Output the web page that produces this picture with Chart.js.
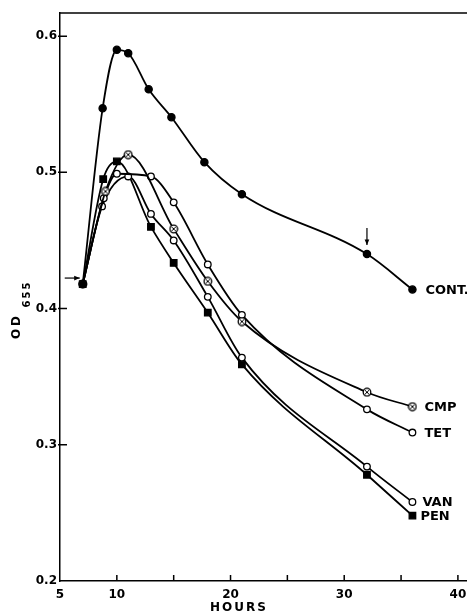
<!DOCTYPE html>
<html lang="en">
<head>
  <meta charset="UTF-8" />
  <title>OD 655 vs hours</title>
  <script src="https://cdn.jsdelivr.net/npm/chart.js"></script>
  <style>
    html, body { margin: 0; padding: 0; background: #fff; }
    #wrap { width: 467px; height: 615px; position: relative; }
  </style>
</head>
<body>
  <div id="wrap"><canvas id="odChart"></canvas></div>

  <script>
    // values
    const contHours = [7, 8.75, 10, 11, 12.8, 14.8, 17.7, 21, 32, 36];
    const contOD    = [0.418, 0.547, 0.590, 0.5875, 0.561, 0.5405, 0.5075, 0.484, 0.440, 0.414];

    const cmpHours = [7, 9, 11, 15, 18, 21, 32, 36];
    const cmpOD    = [0.418, 0.486, 0.513, 0.4585, 0.420, 0.3905, 0.3386, 0.328];

    const tetHours = [7, 8.85, 10, 13, 15, 18, 21, 32, 36];
    const tetOD    = [0.418, 0.481, 0.499, 0.497, 0.478, 0.4324, 0.3954, 0.326, 0.309];

    const vanHours = [7, 8.7, 11, 13, 15, 18, 21, 32, 36];
    const vanOD    = [0.418, 0.475, 0.497, 0.4695, 0.450, 0.4086, 0.364, 0.284, 0.258];

    const penHours = [7, 8.8, 10, 13, 15, 18, 21, 32, 36];
    const penOD    = [0.418, 0.495, 0.508, 0.460, 0.4335, 0.397, 0.359, 0.278, 0.248];

    const seriesNames = ["CONT.", "CMP", "TET", "VAN", "PEN"];
    const xLabelled = [5, 10, 20, 30, 40];

    const FONT = "'DejaVu Sans', sans-serif";

    function pts(xs, ys) {
      return xs.map((x, i) => ({ x: x, y: ys[i] }));
    }

    // circle with an x inside, for CMP
    function makeCrossCircle() {
      const c = document.createElement("canvas");
      c.width = 10; c.height = 10;
      const g = c.getContext("2d");
      g.fillStyle = "#fff";
      g.strokeStyle = "#000";
      g.lineWidth = 1.3;
      g.beginPath(); g.arc(5, 5, 3.8, 0, Math.PI * 2); g.fill(); g.stroke();
      g.lineWidth = 1;
      g.beginPath();
      g.moveTo(2.6, 2.6); g.lineTo(7.4, 7.4);
      g.moveTo(7.4, 2.6); g.lineTo(2.6, 7.4);
      g.stroke();
      return c;
    }

    function ds(label, xs, ys, style, fill, radius) {
      return {
        label: label,
        data: pts(xs, ys),
        borderColor: "#000",
        borderWidth: 1.8,
        pointStyle: style,
        pointRadius: radius,
        pointBackgroundColor: fill,
        pointBorderColor: "#000",
        pointBorderWidth: 1.3,
        cubicInterpolationMode: "monotone",
        fill: false,
        clip: false
      };
    }

    const extras = {
      id: "extras",
      afterDraw(chart) {
        const { ctx, chartArea: a, scales } = chart;
        const xs = scales.x, ys = scales.y;
        ctx.save();
        ctx.strokeStyle = "#000";
        ctx.fillStyle = "#000";
        ctx.lineWidth = 1.5;

        // top frame line
        ctx.beginPath();
        ctx.moveTo(a.left, a.top); ctx.lineTo(a.right, a.top);
        ctx.stroke();

        // inward tick marks
        ctx.beginPath();
        for (let h = 10; h <= 40; h += 5) {
          const px = xs.getPixelForValue(h);
          ctx.moveTo(px, a.bottom); ctx.lineTo(px, a.bottom - 6);
        }
        [0.3, 0.4, 0.5, 0.6].forEach(v => {
          const py = ys.getPixelForValue(v);
          ctx.moveTo(a.left - 2, py); ctx.lineTo(a.left + 7, py);
        });
        ctx.stroke();

        // arrows
        const p0 = chart.getDatasetMeta(0).data[0];
        drawArrow(ctx, p0.x - 18, p0.y - 6, p0.x - 3, p0.y - 6);
        const pc = chart.getDatasetMeta(0).data[8];
        drawArrow(ctx, pc.x, pc.y - 26, pc.x, pc.y - 9);

        // series labels at the end of each curve
        ctx.font = "bold 13px " + FONT;
        ctx.textBaseline = "middle";
        ctx.textAlign = "left";
        const offs = [13, 12, 12, 10, 8];
        seriesNames.forEach((name, i) => {
          const meta = chart.getDatasetMeta(i);
          const last = meta.data[meta.data.length - 1];
          ctx.fillText(name, last.x + offs[i], last.y + 1);
        });

        // x title
        ctx.font = "bold 12px " + FONT;
        ctx.textAlign = "center";
        ctx.letterSpacing = "2px";
        ctx.fillText("HOURS", 239, 608);

        // y title, rotated
        ctx.translate(17, 326);
        ctx.rotate(-Math.PI / 2);
        ctx.letterSpacing = "3px";
        ctx.fillText("OD", 0, 0);
        ctx.font = "bold 10px " + FONT;
        ctx.letterSpacing = "2px";
        ctx.fillText("655", 32, 10);
        ctx.restore();
      }
    };

    function drawArrow(ctx, x1, y1, x2, y2) {
      const ang = Math.atan2(y2 - y1, x2 - x1);
      ctx.save();
      ctx.lineWidth = 1.2;
      ctx.beginPath();
      ctx.moveTo(x1, y1); ctx.lineTo(x2, y2);
      ctx.stroke();
      ctx.beginPath();
      ctx.moveTo(x2, y2);
      ctx.lineTo(x2 - 6 * Math.cos(ang - 0.4), y2 - 6 * Math.sin(ang - 0.4));
      ctx.lineTo(x2 - 6 * Math.cos(ang + 0.4), y2 - 6 * Math.sin(ang + 0.4));
      ctx.closePath();
      ctx.fill();
      ctx.restore();
    }

    window.onload = () => {
      const crossCircle = makeCrossCircle();
      const ctx = document.getElementById("odChart").getContext("2d");
      new Chart(ctx, {
        type: "line",
        data: {
          datasets: [
            ds("CONT.", contHours, contOD, "circle", "#000", 3.6),
            ds("CMP", cmpHours, cmpOD, crossCircle, "#fff", 4),
            ds("TET", tetHours, tetOD, "circle", "#fff", 3.3),
            ds("VAN", vanHours, vanOD, "circle", "#fff", 3.3),
            ds("PEN", penHours, penOD, "rect", "#000", 4.6)
          ]
        },
        options: {
          responsive: false,
          animation: false,
          layout: { autoPadding: false, padding: { top: 13, right: 0, left: 0, bottom: 0 } },
          plugins: {
            legend: { display: false },
            tooltip: { enabled: false }
          },
          scales: {
            x: {
              type: "linear",
              min: 5,
              max: 40.8,
              afterFit(s) { s.height = 34; s.paddingLeft = 0; s.paddingRight = 0; },
              grid: { display: false, drawTicks: false },
              border: { display: true, color: "#000", width: 1.5 },
              ticks: {
                stepSize: 5,
                includeBounds: false,
                autoSkip: false,
                maxRotation: 0,
                padding: 7,
                color: "#000",
                font: { family: FONT, weight: "bold", size: 12 },
                callback: v => xLabelled.includes(v) ? String(v) : ""
              }
            },
            y: {
              min: 0.2,
              max: 0.617,
              afterFit(s) { s.width = 60; },
              grid: { display: false, drawTicks: false },
              border: { display: true, color: "#000", width: 1.5 },
              ticks: {
                stepSize: 0.1,
                includeBounds: false,
                padding: 3,
                color: "#000",
                font: { family: FONT, weight: "bold", size: 12 },
                callback: v => v.toFixed(1)
              }
            }
          }
        },
        plugins: [extras]
      });
    };

    document.getElementById("odChart").width = 467;
    document.getElementById("odChart").height = 615;
  </script>
</body>
</html>
